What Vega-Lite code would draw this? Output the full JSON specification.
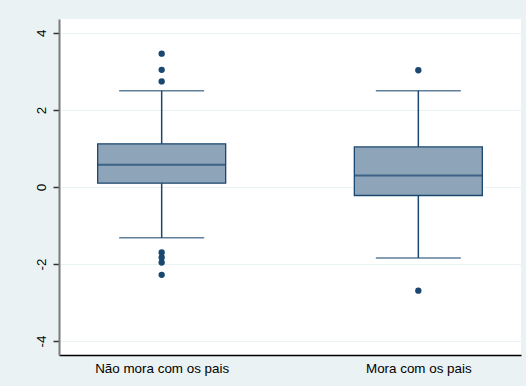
{
  "$schema": "https://vega.github.io/schema/vega-lite/v6.json",
  "width": 462,
  "height": 336,
  "autosize": {"type": "none"},
  "padding": {"left": 59, "top": 19, "right": 5, "bottom": 31},
  "background": "#EAF2F3",
  "view": {"fill": "white", "stroke": null},
  "config": {
    "font": "Liberation Sans",
    "axis": {"labelFont": "Liberation Sans", "labelFontSize": 13.4, "labelColor": "#000000", "title": null}
  },
  "datasets": {
    "summary": [
      {"grupo": "Não mora com os pais", "lower": -1.32, "q1": 0.10, "median": 0.58, "q3": 1.12, "upper": 2.50},
      {"grupo": "Mora com os pais", "lower": -1.84, "q1": -0.22, "median": 0.30, "q3": 1.04, "upper": 2.50}
    ],
    "outliers": [
      {"grupo": "Não mora com os pais", "valor": 3.46},
      {"grupo": "Não mora com os pais", "valor": 3.04},
      {"grupo": "Não mora com os pais", "valor": 2.74},
      {"grupo": "Não mora com os pais", "valor": -1.70},
      {"grupo": "Não mora com os pais", "valor": -1.83},
      {"grupo": "Não mora com os pais", "valor": -1.96},
      {"grupo": "Não mora com os pais", "valor": -2.28},
      {"grupo": "Mora com os pais", "valor": 3.03},
      {"grupo": "Mora com os pais", "valor": -2.69}
    ]
  },
  "encoding": {
    "x": {
      "field": "grupo",
      "type": "nominal",
      "sort": ["Não mora com os pais", "Mora com os pais"],
      "scale": {"type": "point", "padding": 0.4},
      "axis": {
        "labelAngle": 0,
        "ticks": false,
        "labelPadding": 6,
        "domainColor": "#000000",
        "domainWidth": 1.5,
        "grid": false
      }
    }
  },
  "layer": [
    {
      "data": {"name": "summary"},
      "mark": {"type": "rule", "color": "#1A476F", "strokeWidth": 1.5},
      "encoding": {
        "y": {
          "field": "lower",
          "type": "quantitative",
          "scale": {"domain": [-4.36, 4.36], "nice": false, "zero": false},
          "axis": {
            "values": [-4, -2, 0, 2, 4],
            "labelExpr": "datum.value < 0 ? '-' + abs(datum.value) : '' + datum.value",
            "labelAngle": 270,
            "labelPadding": 5,
            "tickSize": 6,
            "tickColor": "#333333",
            "tickWidth": 1.5,
            "domainColor": "#7A7A7A",
            "domainWidth": 2,
            "grid": true,
            "gridColor": "#EAF2F3",
            "gridWidth": 1.2
          }
        },
        "y2": {"field": "upper"}
      }
    },
    {
      "data": {"name": "summary"},
      "mark": {"type": "tick", "color": "#1A476F", "size": 85, "thickness": 1.5},
      "encoding": {"y": {"field": "lower", "type": "quantitative"}}
    },
    {
      "data": {"name": "summary"},
      "mark": {"type": "tick", "color": "#1A476F", "size": 85, "thickness": 1.5},
      "encoding": {"y": {"field": "upper", "type": "quantitative"}}
    },
    {
      "data": {"name": "summary"},
      "mark": {"type": "bar", "size": 128, "fill": "#8EA4B8", "stroke": "#1A476F", "strokeWidth": 1.3},
      "encoding": {
        "y": {"field": "q1", "type": "quantitative"},
        "y2": {"field": "q3"}
      }
    },
    {
      "data": {"name": "summary"},
      "mark": {"type": "tick", "color": "#1A476F", "size": 128, "thickness": 2},
      "encoding": {"y": {"field": "median", "type": "quantitative"}}
    },
    {
      "data": {"name": "outliers"},
      "mark": {"type": "circle", "color": "#1A476F", "opacity": 1, "size": 40},
      "encoding": {"y": {"field": "valor", "type": "quantitative"}}
    }
  ]
}
